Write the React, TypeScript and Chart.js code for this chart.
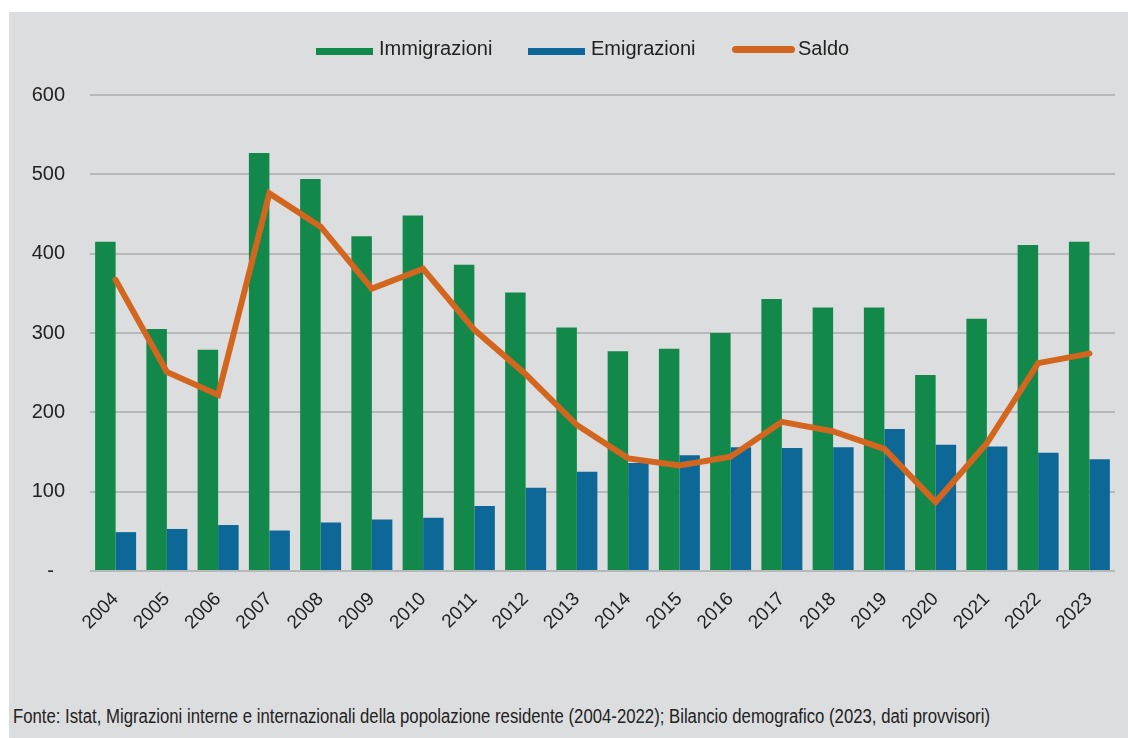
import React, { useEffect, useLayoutEffect, useRef } from "react";
import { Chart, registerables } from "chart.js";

Chart.register(...registerables);

const years = ["2004", "2005", "2006", "2007", "2008", "2009", "2010", "2011", "2012", "2013", "2014", "2015", "2016", "2017", "2018", "2019", "2020", "2021", "2022", "2023"];
const immigrazioni = [415, 305, 279, 527, 494, 422, 448, 386, 351, 307, 277, 280, 300, 343, 332, 332, 247, 318, 411, 415];
const emigrazioni = [49, 53, 58, 51, 61, 65, 67, 82, 105, 125, 136, 146, 156, 155, 156, 179, 159, 157, 149, 141];
const saldo = [367, 251, 222, 476, 434, 356, 381, 304, 248, 184, 142, 133, 144, 188, 176, 154, 87, 161, 262, 274];
const yTicks = [0, 100, 200, 300, 400, 500, 600];

const seriesNames = ["Immigrazioni", "Emigrazioni", "Saldo"];
const footnote = "Fonte: Istat, Migrazioni interne e internazionali della popolazione residente (2004-2022); Bilancio demografico (2023, dati provvisori)";

const GREEN = "#12894A";
const BLUE = "#0E6897";
const ORANGE = "#D3661F";
const BG = "#DCDDDF";
const GRID = "#B7B8BA";
const TEXT = "#222222";
const FONT = "'Liberation Sans', Arial, sans-serif";
const FOOT_WIDTH = 977;

export default function App() {
  const ref = useRef<HTMLCanvasElement | null>(null);
  const footRef = useRef<HTMLDivElement | null>(null);

  useLayoutEffect(() => {
    const el = footRef.current;
    if (!el) return;
    el.style.transform = "none";
    const w = el.getBoundingClientRect().width;
    if (w > 0) el.style.transform = `scaleX(${FOOT_WIDTH / w})`;
  }, []);

  useEffect(() => {
    if (!ref.current) return;
    const chart = new Chart(ref.current, {
      type: "bar",
      data: {
        labels: years,
        datasets: [
          {
            type: "line",
            label: seriesNames[2],
            data: saldo,
            borderColor: ORANGE,
            backgroundColor: ORANGE,
            borderWidth: 6,
            pointRadius: 0,
            tension: 0,
            borderCapStyle: "round",
            borderJoinStyle: "miter",
            order: 0,
          } as any,
          {
            type: "bar",
            label: seriesNames[0],
            data: immigrazioni,
            backgroundColor: GREEN,
            borderWidth: 0,
            categoryPercentage: 0.8,
            barPercentage: 1.0,
            order: 1,
          },
          {
            type: "bar",
            label: seriesNames[1],
            data: emigrazioni,
            backgroundColor: BLUE,
            borderWidth: 0,
            categoryPercentage: 0.8,
            barPercentage: 1.0,
            order: 1,
          },
        ],
      },
      options: {
        responsive: false,
        animation: false,
        layout: { padding: { top: 83, right: 13, left: 10, bottom: 0 } },
        plugins: { legend: { display: false }, tooltip: { enabled: false } },
        scales: {
          x: {
            grid: { display: false },
            border: { display: false },
            ticks: {
              font: { family: FONT, size: 19 },
              color: TEXT,
              minRotation: 45,
              maxRotation: 45,
              padding: 9,
              autoSkip: false,
            },
            afterFit: (s: any) => {
              s.height = 81;
            },
          },
          y: {
            min: yTicks[0],
            max: yTicks[yTicks.length - 1],
            grid: { color: GRID, lineWidth: 2, drawTicks: false },
            border: { display: false },
            ticks: {
              stepSize: 100,
              padding: 25,
              font: { family: FONT, size: 20 },
              color: TEXT,
              callback: (v: any) => (Number(v) === 0 ? "-  " : String(v)),
            },
            afterFit: (s: any) => {
              s.width = 71;
            },
          },
        },
      },
    });
    return () => chart.destroy();
  }, []);

  const legendText: React.CSSProperties = {
    position: "absolute",
    top: 26,
    fontFamily: FONT,
    fontSize: 20,
    lineHeight: "20px",
    color: TEXT,
    whiteSpace: "nowrap",
  };

  return (
    <div
      style={{
        position: "absolute",
        left: 9,
        top: 12,
        width: 1119,
        height: 726,
        background: BG,
        overflow: "hidden",
      }}
    >
      <canvas ref={ref} width={1119} height={640} style={{ position: "absolute", left: 0, top: 0, width: 1119, height: 640 }} />
      <div style={{ position: "absolute", left: 307, top: 36, width: 57, height: 7, background: GREEN }} />
      <div style={{ ...legendText, left: 370 }}>{seriesNames[0]}</div>
      <div style={{ position: "absolute", left: 519, top: 36, width: 57, height: 7, background: BLUE }} />
      <div style={{ ...legendText, left: 582 }}>{seriesNames[1]}</div>
      <div style={{ position: "absolute", left: 723, top: 34, width: 63, height: 7, borderRadius: 3.5, background: ORANGE }} />
      <div style={{ ...legendText, left: 789 }}>{seriesNames[2]}</div>
      <div
        ref={footRef}
        style={{
          position: "absolute",
          left: 4,
          top: 694,
          fontFamily: FONT,
          fontSize: 19.5,
          lineHeight: "20px",
          color: TEXT,
          whiteSpace: "nowrap",
          transformOrigin: "0 0",
        }}
      >
        {footnote}
      </div>
    </div>
  );
}
